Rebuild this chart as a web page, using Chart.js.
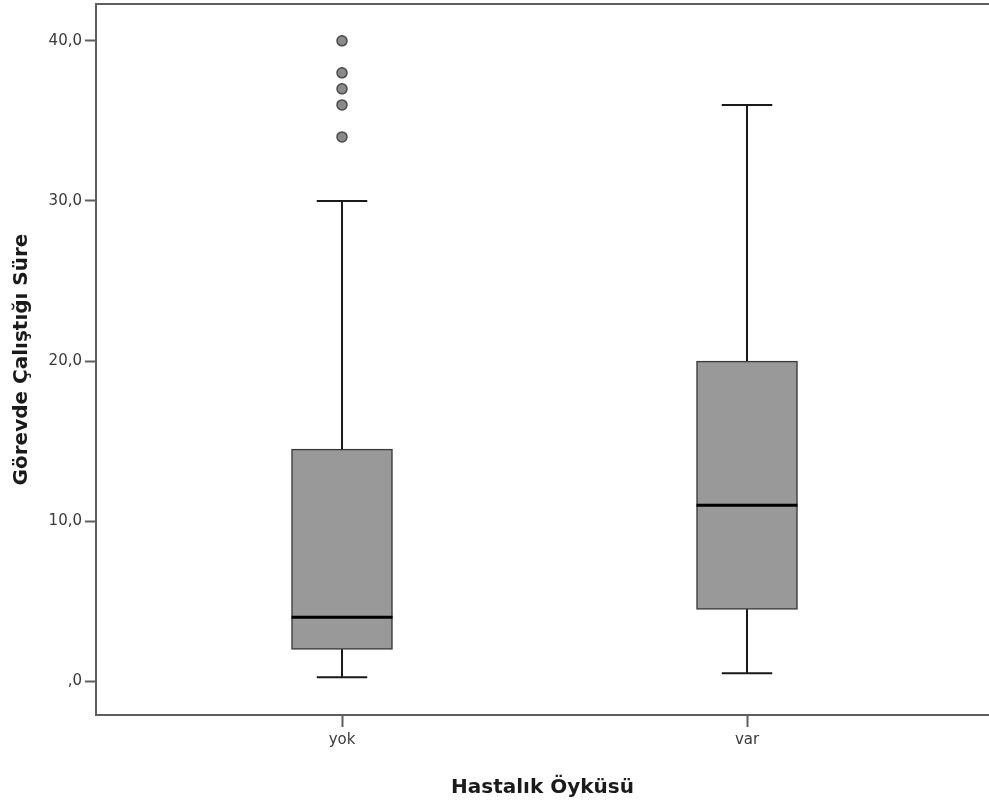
<!DOCTYPE html>
<html>
<head>
<meta charset="utf-8">
<script src="https://cdn.jsdelivr.net/npm/chart.js@4"></script>
<style>
  html, body { margin: 0; padding: 0; background: #ffffff; overflow: hidden; }
  canvas { display: block; }
</style>
</head>
<body>
<canvas id="c" width="989" height="800"></canvas>
<script>
// ---- data ----
const categories = ['yok', 'var'];
const whiskerLow = [0.25, 0.5];
const q1 = [2, 4.5];
const median = [4, 11];
const q3 = [14.5, 20];
const whiskerHigh = [30, 36];
const outliers = [[34, 36, 37, 38, 40], []];
const yTickValues = [0, 10, 20, 30, 40];
const yTickLabels = [',0', '10,0', '20,0', '30,0', '40,0'];
const xTitle = 'Hastalık Öyküsü';
const yTitle = 'Görevde Çalıştığı Süre';

const frameColor = '#5e5e5e';
const tickFont = { family: 'DejaVu Sans', size: 15 };
const titleFont = { family: 'DejaVu Sans', size: 20, weight: 'bold' };

const boxData = categories.map((c, i) => ({ x: i, y: [q1[i], q3[i]] }));
const outlierData = [];
outliers.forEach((arr, i) => arr.forEach(v => outlierData.push({ x: i, y: v })));

const boxPlotPlugin = {
  id: 'boxPlotExtras',
  afterDatasetsDraw(chart) {
    const ctx = chart.ctx;
    const xs = chart.scales.x, ys = chart.scales.y;
    const meta = chart.getDatasetMeta(0);
    ctx.save();
    meta.data.forEach((bar, i) => {
      const cx = xs.getPixelForValue(i);
      const w = bar.width;
      const capHalf = w / 4;
      const pLow = ys.getPixelForValue(whiskerLow[i]);
      const pQ1 = ys.getPixelForValue(q1[i]);
      const pQ3 = ys.getPixelForValue(q3[i]);
      const pHigh = ys.getPixelForValue(whiskerHigh[i]);
      const pMed = ys.getPixelForValue(median[i]);
      ctx.strokeStyle = '#1a1a1a';
      ctx.lineWidth = 2;
      ctx.beginPath();
      ctx.moveTo(cx, pQ3); ctx.lineTo(cx, pHigh);
      ctx.moveTo(cx - capHalf, pHigh); ctx.lineTo(cx + capHalf, pHigh);
      ctx.moveTo(cx, pQ1); ctx.lineTo(cx, pLow);
      ctx.moveTo(cx - capHalf, pLow); ctx.lineTo(cx + capHalf, pLow);
      ctx.stroke();
      ctx.strokeStyle = '#000000';
      ctx.lineWidth = 3;
      ctx.beginPath();
      ctx.moveTo(cx - w / 2, pMed); ctx.lineTo(cx + w / 2, pMed);
      ctx.stroke();
    });
    ctx.restore();
  }
};

const frameTopPlugin = {
  id: 'frameTop',
  afterDraw(chart) {
    const { ctx, chartArea } = chart;
    ctx.save();
    ctx.strokeStyle = frameColor;
    ctx.lineWidth = 2;
    ctx.beginPath();
    ctx.moveTo(chartArea.left - 1, chartArea.top);
    ctx.lineTo(chartArea.right, chartArea.top);
    ctx.stroke();
    ctx.restore();
  }
};

new Chart(document.getElementById('c'), {
  type: 'bar',
  data: {
    datasets: [
      {
        type: 'bar',
        data: boxData,
        backgroundColor: '#999999',
        borderColor: '#3a3a3a',
        borderWidth: 1.5,
        borderSkipped: false,
        barThickness: 101,
        order: 2
      },
      {
        type: 'scatter',
        data: outlierData,
        pointRadius: 5,
        pointBackgroundColor: '#8a8a8a',
        pointBorderColor: '#4a4a4a',
        pointBorderWidth: 1.5,
        order: 0
      }
    ]
  },
  options: {
    responsive: false,
    animation: false,
    layout: { autoPadding: false, padding: { top: 4, right: 0, bottom: 0, left: 0 } },
    plugins: { legend: { display: false }, tooltip: { enabled: false } },
    scales: {
      x: {
        type: 'linear',
        offset: false,
        min: -0.6074,
        max: 1.5975,
        afterBuildTicks(scale) { scale.ticks = categories.map((c, i) => ({ value: i })); },
        afterFit(scale) { scale.height = 85; scale.paddingLeft = 0; scale.paddingRight = 0; },
        ticks: {
          callback: (v) => categories[v],
          font: tickFont,
          color: '#3a3a3a',
          padding: 4,
          maxRotation: 0,
          autoSkip: false
        },
        grid: {
          offset: false,
          drawOnChartArea: false,
          tickLength: 12,
          tickColor: frameColor,
          tickWidth: 2
        },
        border: { display: true, color: frameColor, width: 2 },
        title: {
          display: true,
          text: xTitle,
          font: titleFont,
          color: '#1a1a1a',
          padding: { top: 11, bottom: 0 }
        }
      },
      y: {
        type: 'linear',
        min: -2.1,
        max: 42.3,
        afterBuildTicks(scale) { scale.ticks = yTickValues.map(v => ({ value: v })); },
        afterFit(scale) { scale.width = 96; scale.paddingTop = 0; scale.paddingBottom = 0; },
        ticks: {
          callback: (v) => yTickLabels[yTickValues.indexOf(v)],
          font: tickFont,
          color: '#3a3a3a',
          padding: 3
        },
        grid: {
          drawOnChartArea: false,
          tickLength: 11,
          tickColor: frameColor,
          tickWidth: 2
        },
        border: { display: true, color: frameColor, width: 2 },
        title: {
          display: true,
          text: yTitle,
          font: titleFont,
          color: '#1a1a1a',
          padding: { top: 10, bottom: 0 }
        }
      }
    }
  },
  plugins: [boxPlotPlugin, frameTopPlugin]
});
</script>
</body>
</html>
